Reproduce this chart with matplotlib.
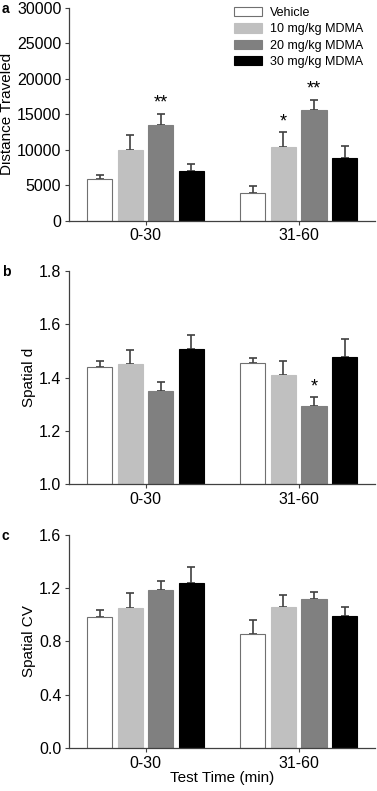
import numpy as np
import matplotlib.pyplot as plt

plt.rcParams['font.family'] = ['Liberation Sans', 'DejaVu Sans']

groups = ['0-30', '31-60']
doses = ['Vehicle', '10 mg/kg MDMA', '20 mg/kg MDMA', '30 mg/kg MDMA']
colors = ['white', '#c0c0c0', '#808080', 'black']

# distance traveled: mean and upper error per dose, for each time bin
dist_mean = [[5800, 3850], [10000, 10400], [13450, 15600], [6950, 8770]]
dist_err = [[570, 980], [2000, 2020], [1550, 1450], [980, 1780]]

spd_mean = [[1.440, 1.453], [1.451, 1.410], [1.349, 1.294], [1.507, 1.476]]
spd_err = [[0.021, 0.019], [0.054, 0.051], [0.033, 0.031], [0.051, 0.067]]

cv_mean = [[0.985, 0.859], [1.050, 1.055], [1.186, 1.121], [1.241, 0.990]]
cv_err = [[0.053, 0.103], [0.111, 0.091], [0.065, 0.050], [0.118, 0.068]]

# significance marks: (panel, dose index, group index, text)
stars = [(0, 2, 0, '**'), (0, 1, 1, '*'), (0, 2, 1, '**'), (1, 2, 1, '*')]

x = np.arange(2)
width = 0.165
offsets = [-0.3, -0.1, 0.1, 0.3]
edge = '#404040'

fig = plt.figure(figsize=(3.77, 7.91), dpi=100)
left, w, h = 0.183, 0.812, 0.2695
ax_a = fig.add_axes([left, 0.721, w, h])
ax_b = fig.add_axes([left, 0.388, w, h])
ax_c = fig.add_axes([left, 0.0544, w, h])
axes = [ax_a, ax_b, ax_c]

panels = [
    (dist_mean, dist_err, 'Distance Traveled', (0, 30000), np.arange(0, 30001, 5000), '{:.0f}'),
    (spd_mean, spd_err, 'Spatial d', (1.0, 1.8), np.arange(1.0, 1.81, 0.2), '{:.1f}'),
    (cv_mean, cv_err, 'Spatial CV', (0.0, 1.6), np.arange(0.0, 1.61, 0.4), '{:.1f}'),
]

for ax, (means, errs, ylabel, ylim, yticks, fmt) in zip(axes, panels):
    base = ylim[0]
    for i in range(4):
        m = np.array(means[i])
        ax.bar(x + offsets[i], m - base, width, bottom=base, color=colors[i],
               edgecolor='#707070' if i == 0 else colors[i], linewidth=0.8,
               label=doses[i], zorder=2)
        ax.errorbar(x + offsets[i], m, yerr=[np.zeros(2), errs[i]], fmt='none',
                    ecolor=edge, elinewidth=1.2, capsize=3, capthick=1.2, zorder=1)
    ax.set_xlim(-0.5, 1.5)
    ax.set_ylim(*ylim)
    ax.set_yticks(yticks)
    ax.set_yticklabels([fmt.format(t) for t in yticks])
    ax.set_xticks(x)
    ax.set_xticklabels(groups)
    ax.set_ylabel(ylabel, fontsize=11, labelpad=2)
    ax.tick_params(labelsize=11.5, color=edge, length=3, width=0.8, pad=2.5)
    for s in ['top', 'right']:
        ax.spines[s].set_visible(False)
    for s in ['left', 'bottom']:
        ax.spines[s].set_color(edge)
        ax.spines[s].set_linewidth(0.9)

for p, d, g, txt in stars:
    ax = axes[p]
    means, errs = panels[p][0], panels[p][1]
    span = panels[p][3][1] - panels[p][3][0]
    ax.text(x[g] + offsets[d], means[d][g] + errs[d][g] + span * 0.01, txt,
            ha='center', va='bottom', fontsize=13)

ax_a.legend(loc='upper right', bbox_to_anchor=(0.985, 1.038), frameon=False, fontsize=9,
            handlelength=2.3, handleheight=0.75, labelspacing=0.35, handletextpad=0.6,
            borderaxespad=0.2)
ax_c.set_xlabel('Test Time (min)', fontsize=11, labelpad=0)

for lab, ypos in zip(['a', 'b', 'c'], [0.998, 0.665, 0.331]):
    fig.text(0.005, ypos, lab, fontsize=10, fontweight='bold', va='top')

fig.savefig('out.png', dpi=100)
